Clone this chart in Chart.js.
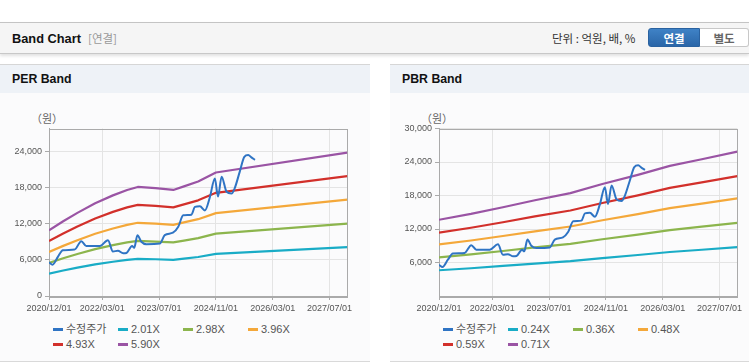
<!DOCTYPE html>
<html>
<head>
<meta charset="utf-8">
<script src="https://cdn.jsdelivr.net/npm/chart.js@4"></script>
<style>
  html, body { margin: 0; padding: 0; background: #fff; overflow: hidden; }
  body { width: 749px; height: 364px; position: relative; font-family: "Liberation Sans", "Noto Sans CJK KR", sans-serif; }
  .top { position: absolute; left: 0; top: 22px; width: 749px; height: 30px; background: #f5f5f5;
         border-top: 1px solid #c4c4c4; border-bottom: 1px solid #c8c8c8; box-shadow: 0 2px 3px rgba(0,0,0,0.12); }
  .top .t { position: absolute; left: 12px; top: 8px; font-size: 12.8px; font-weight: bold; color: #111; line-height: 15px; }
  .top .sub { position: absolute; left: 88px; top: 8px; font-size: 11.5px; color: #999; line-height: 15px; font-family: "Noto Sans CJK KR", sans-serif; }
  .top .unitTxt { position: absolute; left: 552px; top: 7px; font-size: 11.5px; color: #333; line-height: 16px; font-family: "Noto Sans CJK KR", sans-serif; }
  .btn { position: absolute; top: 5px; height: 19px; line-height: 19px; text-align: center; font-size: 11.5px; font-weight: bold;
         font-family: "Noto Sans CJK KR", sans-serif; box-sizing: border-box; }
  .btn.on { left: 648px; width: 52px; color: #fff; background: linear-gradient(#3f82c6, #2a66a8); border: 1px solid #2a62a0; border-radius: 3px 0 0 3px; }
  .btn.off { left: 700px; width: 49px; color: #666; background: #fff; border: 1px solid #c8c8c8; border-left: none; border-radius: 0 3px 3px 0; }
  .panel { position: absolute; top: 64px; width: 370px; height: 298px; background: #fbfbfc;
           border-top: 1px solid #d6d6d6; border-bottom: 1px solid #d9d9d9; box-sizing: border-box; }
  .ph { height: 28px; background: #eef2f7; font-size: 12.3px; font-weight: bold; color: #111; line-height: 28px; padding-left: 12px; }
  .unit { position: absolute; left: 31px; top: 46px; font-size: 11px; color: #666; line-height: 14px; font-family: "Noto Sans CJK KR", sans-serif; }
  .cv { position: absolute; left: 0; top: 28px; width: 370px; height: 225px; }
  .legend { position: absolute; left: 0; top: 257px; width: 370px; }
  .li { position: absolute; font-size: 11px; color: #555; line-height: 15px; white-space: nowrap; }
  .li i { display: inline-block; width: 10px; height: 3px; vertical-align: middle; margin-right: 3px; position: relative; top: -1px; }
</style>
</head>
<body>
<div class="top">
  <span class="t">Band Chart</span><span class="sub">[연결]</span>
  <span class="unitTxt">단위 : 억원, 배, %</span>
  <span class="btn on">연결</span><span class="btn off">별도</span>
</div>

<div class="panel" style="left:0">
  <div class="ph">PER Band</div>
  <div class="unit">（원）</div>
  <div class="cv"><canvas id="perChart" width="370" height="225"></canvas></div>
  <div class="legend" id="perLegend"></div>
</div>

<div class="panel" style="left:390px">
  <div class="ph">PBR Band</div>
  <div class="unit">（원）</div>
  <div class="cv"><canvas id="pbrChart" width="370" height="225"></canvas></div>
  <div class="legend" id="pbrLegend"></div>
</div>

<script>
// x축: 2020/12 부터의 개월 수
const tickMonths = [0, 15, 31, 47, 63, 79];
const tickLabels = ['2020/12/01', '2022/03/01', '2023/07/01', '2024/11/01', '2026/03/01', '2027/07/01'];

// 수정주가
const priceMonths = [0, 1, 2.5, 3.9, 7.2, 9.1, 10.5, 14.3, 16.6, 18, 19.4, 20.9, 21.8, 23.4, 24, 24.9, 26, 27.4, 31.2, 32.6,
  34.9, 36.4, 37.8, 40.1, 41.1, 42.5, 43.9, 45.3, 46.7, 47.6, 48.6, 50, 51.4, 52.3, 53.7, 55, 56.1, 57, 58];
const priceValues = [5600, 5200, 6500, 7600, 7700, 9100, 8300, 8300, 9250, 7400, 7500, 7100, 7150, 8300, 8000, 10100, 9000, 8600, 8700, 10100,
  10500, 11500, 13400, 13500, 14800, 14900, 14200, 16400, 19500, 16500, 19800, 17300, 17000, 17900, 20600, 23100, 23400, 23000, 22600];

// PER Band
const perNames = ['2.01X', '2.98X', '3.96X', '4.93X', '5.90X'];
const perBandMonths = [0, 4, 8, 13, 18, 22, 25, 30, 35, 38, 42, 47, 84];
const per201 = [3710, 4230, 4700, 5250, 5690, 6000, 6170, 6100, 6000, 6200, 6470, 6990, 8110];
const per298 = [5500, 6260, 6970, 7780, 8440, 8890, 9140, 9040, 8890, 9190, 9600, 10360, 12020];
const per396 = [7310, 8320, 9260, 10340, 11210, 11810, 12150, 12020, 11810, 12220, 12750, 13760, 15980];
const per493 = [9110, 10360, 11530, 12870, 13960, 14710, 15130, 14960, 14710, 15210, 15880, 17130, 19890];
const per590 = [10900, 12400, 13800, 15400, 16700, 17600, 18100, 17900, 17600, 18200, 19000, 20500, 23800];
const perYTicks = [0, 6000, 12000, 18000, 24000];

// PBR Band
const pbrNames = ['0.24X', '0.36X', '0.48X', '0.59X', '0.71X'];
const pbrBandMonths = [0, 9, 18, 27, 37, 46, 56, 65, 74, 84];
const pbr024 = [4610, 4970, 5380, 5800, 6230, 6780, 7340, 7880, 8280, 8740];
const pbr036 = [6920, 7450, 8060, 8700, 9340, 10170, 11000, 11810, 12420, 13110];
const pbr048 = [9230, 9940, 10750, 11590, 12450, 13560, 14670, 15750, 16560, 17480];
const pbr059 = [11340, 12220, 13210, 14250, 15310, 16660, 18030, 19360, 20360, 21480];
const pbr071 = [13650, 14700, 15900, 17150, 18420, 20050, 21700, 23300, 24500, 25850];
const pbrYTicks = [6000, 12000, 18000, 24000, 30000];

const priceColor = '#2f74c4';
const bandColors = ['#19acc6', '#8cb54d', '#f4a83a', '#d2302b', '#9a54a4'];

const toXY = (xs, ys) => ys.map((v, i) => ({ x: xs[i], y: v }));

// 차트 테두리
const framePlugin = {
  id: 'frame',
  beforeDatasetsDraw(chart) {
    const a = chart.chartArea, ctx = chart.ctx;
    ctx.save();
    ctx.strokeStyle = '#aaaaaa';
    ctx.lineWidth = 1;
    ctx.strokeRect(Math.round(a.left) + 0.5, Math.round(a.top) + 0.5, Math.round(a.right - a.left), Math.round(a.bottom - a.top));
    ctx.restore();
  }
};

function makeLegend(id, names) {
  const all = ['수정주가'].concat(names);
  const colors = [priceColor].concat(bandColors);
  const box = document.getElementById(id);
  all.forEach((n, i) => {
    const d = document.createElement('div');
    d.className = 'li';
    d.style.left = (53 + (i % 4) * 65) + 'px';
    d.style.top = (Math.floor(i / 4) * 15) + 'px';
    d.innerHTML = '<i style="background:' + colors[i] + '"></i>' + n;
    box.appendChild(d);
  });
}

function makeChart(canvasId, names, bandMonths, bands, yMax, yTicks) {
  const datasets = [{
    label: '수정주가',
    data: toXY(priceMonths, priceValues),
    borderColor: priceColor,
    borderWidth: 2,
    cubicInterpolationMode: 'monotone',
    order: 0,
  }];
  bands.forEach((b, i) => {
    datasets.push({
      label: names[i],
      data: toXY(bandMonths, b),
      borderColor: bandColors[i],
      borderWidth: 2.2,
      borderJoinStyle: 'round',
      order: 1,
    });
  });

  return new Chart(document.getElementById(canvasId), {
    type: 'line',
    data: { datasets: datasets },
    options: {
      responsive: false,
      animation: false,
      layout: { padding: { top: 35.5, right: 22.7, left: 0, bottom: 0 } },
      elements: { point: { radius: 0 }, line: { tension: 0 } },
      plugins: { legend: { display: false }, tooltip: { enabled: false } },
      scales: {
        x: {
          type: 'linear',
          min: 0,
          max: 84,
          afterBuildTicks: (s) => { s.ticks = tickMonths.map(v => ({ value: v })); },
          afterFit: (s) => { s.height = 22; },
          ticks: {
            autoSkip: false,
            maxRotation: 0,
            padding: 3,
            color: '#555',
            font: { family: 'Liberation Sans', size: 9 },
            callback: (v) => tickLabels[tickMonths.indexOf(v)],
          },
          grid: { color: '#e4e4e4', tickColor: '#aaa', tickLength: 4 },
          border: { color: '#aaa' },
        },
        y: {
          min: 0,
          max: yMax,
          afterBuildTicks: (s) => { s.ticks = yTicks.map(v => ({ value: v })); },
          afterFit: (s) => { s.width = 49; },
          ticks: {
            padding: 3,
            color: '#555',
            font: { family: 'Liberation Sans', size: 9 },
            callback: (v) => v.toLocaleString('en-US'),
          },
          grid: { color: '#e4e4e4', tickColor: '#aaa', tickLength: 4 },
          border: { color: '#aaa' },
        },
      },
    },
    plugins: [framePlugin],
  });
}

makeChart('perChart', perNames, perBandMonths, [per201, per298, per396, per493, per590], 27800, perYTicks);
makeChart('pbrChart', pbrNames, pbrBandMonths, [pbr024, pbr036, pbr048, pbr059, pbr071], 30000, pbrYTicks);
makeLegend('perLegend', perNames);
makeLegend('pbrLegend', pbrNames);
</script>
</body>
</html>
